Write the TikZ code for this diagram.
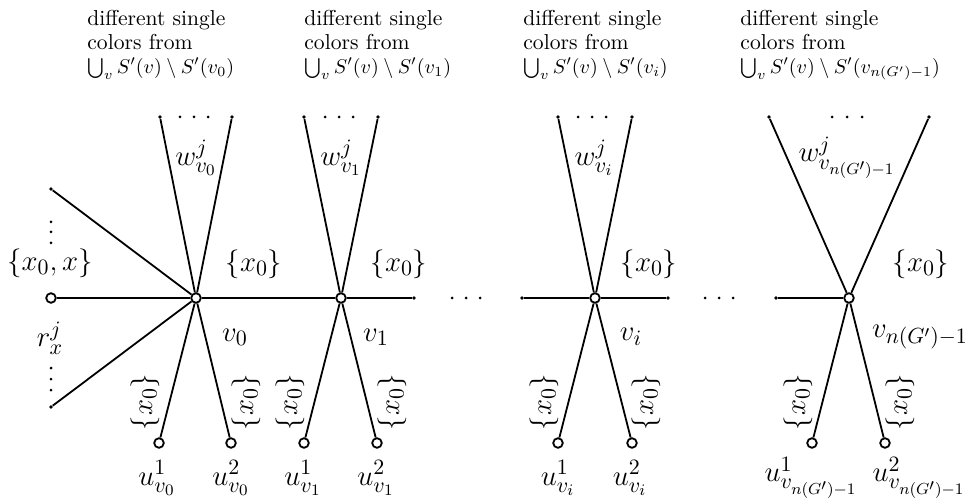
\documentclass[tikz,border=0pt]{standalone}
\begin{document}
\begin{tikzpicture}[x=0.5pt,y=-0.5pt,
  vtx/.style={circle,draw,fill=white,line width=0.9pt,inner sep=0pt,minimum size=4.8pt},
  endpt/.style={circle,fill,inner sep=0pt,minimum size=1.8pt},
  dotp/.style={circle,fill,inner sep=0pt,minimum size=1.5pt},
  edge/.style={line width=0.9pt},
  lab/.style={font=\fontsize{15.5}{18}\selectfont,inner sep=0pt},
  note/.style={font=\fontsize{10.8}{11.9}\selectfont,align=left,anchor=north west,inner sep=0pt}]
\useasboundingbox (0,0) rectangle (969,502);
\newcommand{\mathline}[1]{{\fontsize{10}{11.9}\selectfont$\bigcup_v S'(v)\setminus S'(#1)$}}

% vertices
\node[vtx] (r) at (51,298) {};
\node[vtx] (v0) at (196,298) {};
\node[vtx] (v1) at (341,298) {};
\node[vtx] (vi) at (595,298) {};
\node[vtx] (vn) at (849,298) {};
\node[vtx] (u01) at (159,443) {};
\node[vtx] (u02) at (231,443) {};
\node[vtx] (u11) at (304,443) {};
\node[vtx] (u12) at (377,443) {};
\node[vtx] (ui1) at (558,443) {};
\node[vtx] (ui2) at (632,443) {};
\node[vtx] (un1) at (812,443) {};
\node[vtx] (un2) at (885,443) {};

% free end points
\node[endpt] (lu) at (51,189) {};
\node[endpt] (ll) at (51,407) {};
\node[endpt] (w0a) at (160,117) {};
\node[endpt] (w0b) at (232,117) {};
\node[endpt] (w1a) at (304,117) {};
\node[endpt] (w1b) at (378,117) {};
\node[endpt] (wia) at (558,117) {};
\node[endpt] (wib) at (632,117) {};
\node[endpt] (wna) at (769,117) {};
\node[endpt] (wnb) at (929,117) {};
\node[endpt] (h1) at (414,298) {};
\node[endpt] (hil) at (522,298) {};
\node[endpt] (hir) at (668,298) {};
\node[endpt] (hnl) at (776,298) {};

% edges
\draw[edge] (r) -- (v0) -- (v1) -- (h1);
\draw[edge] (hil) -- (vi) -- (hir);
\draw[edge] (hnl) -- (vn);
\draw[edge] (lu) -- (v0);
\draw[edge] (ll) -- (v0);
\draw[edge] (w0a) -- (v0) -- (w0b);
\draw[edge] (w1a) -- (v1) -- (w1b);
\draw[edge] (wia) -- (vi) -- (wib);
\draw[edge] (wna) -- (vn) -- (wnb);
\draw[edge] (u01) -- (v0) -- (u02);
\draw[edge] (u11) -- (v1) -- (u12);
\draw[edge] (ui1) -- (vi) -- (ui2);
\draw[edge] (un1) -- (vn) -- (un2);

% dots
\foreach \y/\n in {222/a,232/b,243/c,368/d,379/e,390/f} \node[dotp] (vd\n) at (51,\y) {};
\foreach \x/\n in {452/a,466/b,480/c,705/d,719/e,733/f} \node[dotp] (hd\n) at (\x,298) {};
\foreach \x/\n in {180/a,194/b,208/c,325/d,339/e,353/f,578/g,592/h,606/i,832/j,847/k,862/l} \node[dotp] (td\n) at (\x,117) {};

% labels
\node[lab] (lx0x) at (50,263) {$\{x_0,x\}$};
\node[lab] (lr) at (50,338) {$r_x^j$};
\node[lab] (lv0) at (235,337) {$v_0$};
\node[lab] (lv1) at (376,337) {$v_1$};
\node[lab] (lvi) at (631,337) {$v_i$};
\node[lab] (lvn) at (920,337) {$v_{n(G')-1}$};
\node[lab] (s0) at (254,264) {$\{x_0\}$};
\node[lab] (s1) at (399,264) {$\{x_0\}$};
\node[lab] (si) at (649,264) {$\{x_0\}$};
\node[lab] (sn) at (921,264) {$\{x_0\}$};
\node[lab,rotate=90] (t01) at (145,402) {$\{x_0\}$};
\node[lab,rotate=90] (t02) at (246,402) {$\{x_0\}$};
\node[lab,rotate=90] (t11) at (290,402) {$\{x_0\}$};
\node[lab,rotate=90] (t12) at (392,402) {$\{x_0\}$};
\node[lab,rotate=90] (ti1) at (544,402) {$\{x_0\}$};
\node[lab,rotate=90] (ti2) at (646,402) {$\{x_0\}$};
\node[lab,rotate=90] (tn1) at (798,402) {$\{x_0\}$};
\node[lab,rotate=90] (tn2) at (900,402) {$\{x_0\}$};
\node[lab] (lu01) at (157,478) {$u_{v_0}^1$};
\node[lab] (lu02) at (231,478) {$u_{v_0}^2$};
\node[lab] (lu11) at (303,478) {$u_{v_1}^1$};
\node[lab] (lu12) at (376,478) {$u_{v_1}^2$};
\node[lab] (lui1) at (558,478) {$u_{v_i}^1$};
\node[lab] (lui2) at (630,478) {$u_{v_i}^2$};
\node[lab] (lun1) at (811,478) {$u_{v_{n(G')-1}}^1$};
\node[lab] (lun2) at (919,478) {$u_{v_{n(G')-1}}^2$};
\node[lab] (lw0) at (196,158) {$w_{v_0}^j$};
\node[lab] (lw1) at (341,158) {$w_{v_1}^j$};
\node[lab] (lwi) at (594,158) {$w_{v_i}^j$};
\node[lab] (lwn) at (847,158) {$w_{v_{n(G')-1}}^j$};

% notes
\node[note] (n0) at (87,10) {different single\\colors from\\\mathline{v_0}};
\node[note] (n1) at (304,10) {different single\\colors from\\\mathline{v_1}};
\node[note] (ni) at (523,10) {different single\\colors from\\\mathline{v_i}};
\node[note] (nn) at (740,10) {different single\\colors from\\\mathline{v_{n(G')-1}}};
\end{tikzpicture}
\end{document}
